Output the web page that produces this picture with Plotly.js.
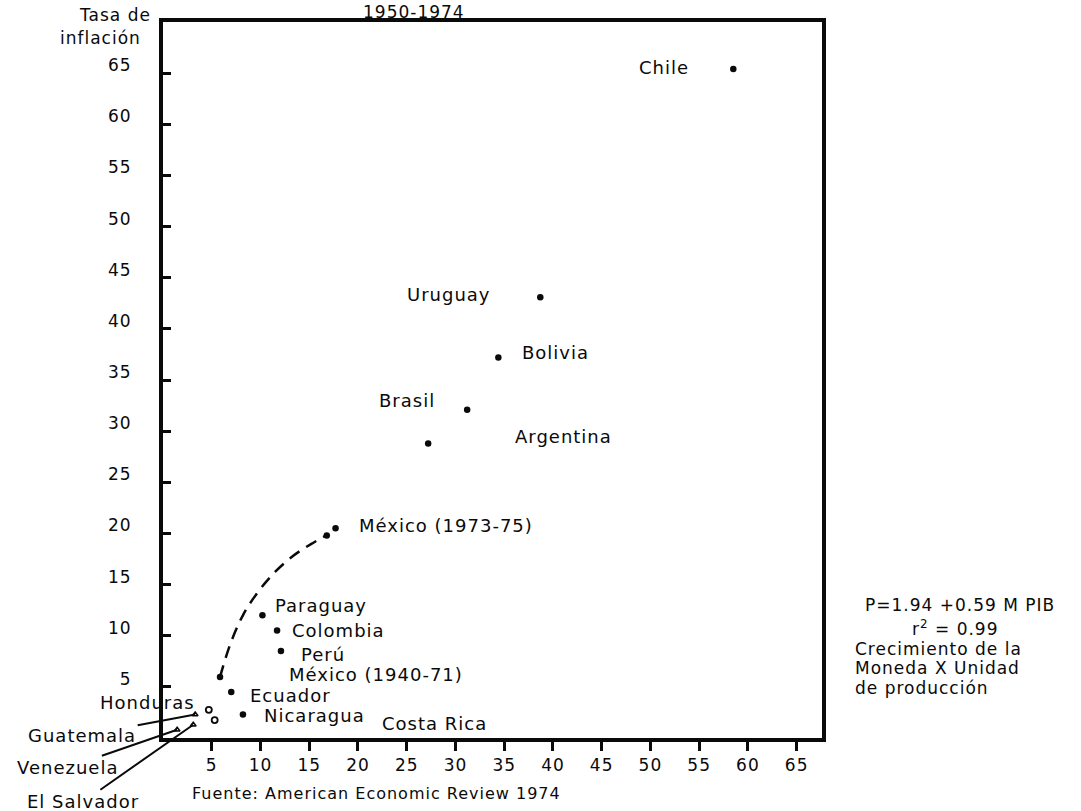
<!DOCTYPE html>
<html>
<head>
<meta charset="utf-8">
<script src="https://cdn.plot.ly/plotly-3.0.1.min.js"></script>
<style>
  html, body { margin: 0; padding: 0; background: #ffffff; }
  #chart { width: 1081px; height: 811px; }
  svg text { letter-spacing: 1px; }
</style>
</head>
<body>
<div id="chart"></div>
<script>
// ---- data ----
const mainCountries = ["Chile", "Uruguay", "Bolivia", "Brasil", "Argentina", "México (1973-75)", "México (1973-75)b",
                       "Paraguay", "Colombia", "Perú", "México (1940-71)", "Ecuador", "Nicaragua"];
const mainMoney = [58.5, 38.7, 34.4, 31.2, 27.2, 17.7, 16.8, 10.2, 11.7, 12.1, 5.85, 7.0, 8.2];
const mainInflation = [65.4, 43.1, 37.2, 32.1, 28.8, 20.5, 19.8, 12.0, 10.5, 8.5, 5.96, 4.5, 2.3];

const openCountries = ["Honduras", "Costa Rica"];
const openMoney = [4.7, 5.3];
const openInflation = [2.75, 1.75];

const smallCountries = ["Venezuela", "El Salvador", "Guatemala"];
const smallMoney = [1.45, 3.1, 3.3];
const smallInflation = [0.8, 1.3, 2.3];

// path of Mexico 1940-71 -> 1973-75 (dashed curve)
const mexPathMoney = [5.85, 6.87, 8.21, 9.74, 11.49, 13.33, 15.18, 16.82];
const mexPathInflation = [5.96, 9.09, 12.02, 14.27, 16.23, 17.79, 18.96, 19.84];

const xTicks = [5, 10, 15, 20, 25, 30, 35, 40, 45, 50, 55, 60, 65];
const yTicks = [5, 10, 15, 20, 25, 30, 35, 40, 45, 50, 55, 60, 65];

// ---- layout helpers ----
const L = 163, R = 822, T = 22, B = 738;
function px(xp) { return (xp - L) / (R - L); }
function py(yp) { return (B - yp) / (B - T); }
const FONT = "DejaVu Sans, Liberation Sans, sans-serif";
const INK = "#0a0a0a";

function label(text, x, y, xanchor, size) {
  return {text: text, xref: "paper", yref: "paper", x: px(x), y: py(y),
          xanchor: xanchor || "left", yanchor: "middle", showarrow: false,
          font: {family: FONT, size: size || 18, color: INK}};
}

const annotations = [
  label("1950-1974", 414, 12, "center", 17),
  label("Tasa de", 153, 15, "right", 17),
  label("inflación", 143, 38, "right", 17),
  label("Chile", 637, 67),
  label("Uruguay", 405, 295),
  label("Bolivia", 520, 352),
  label("Brasil", 377, 400),
  label("Argentina", 513, 436),
  label("México (1973-75)", 357, 525),
  label("Paraguay", 273, 605),
  label("Colombia", 290, 630),
  label("Perú", 299, 654),
  label("México (1940-71)", 287, 674),
  label("Ecuador", 248, 695),
  label("Nicaragua", 262, 715),
  label("Costa Rica", 380, 723),
  label("Honduras", 98, 702),
  label("Fuente: American Economic Review 1974", 190, 793, "left", 16),
  label("P=1.94 +0.59 M PIB", 863, 605, "left", 17),
  label("r<sup>2</sup> = 0.99", 955, 628, "center", 17),
  label("Crecimiento de la", 853, 649, "left", 17),
  label("Moneda X Unidad", 853, 668, "left", 17),
  label("de producción", 853, 688, "left", 17)
];

// leader lines for the crowded corner
function leader(text, i, axPix, ayPix) {
  return {text: text, x: smallMoney[i], y: smallInflation[i], xref: "x", yref: "y",
          ax: axPix, ay: ayPix, showarrow: true, arrowhead: 0, arrowwidth: 2, arrowcolor: INK,
          font: {family: FONT, size: 18, color: INK}};
}
annotations.push(leader("Guatemala", 2, -113, 21));
annotations.push(leader("Venezuela", 0, -110, 38));
annotations.push(leader("El Salvador", 1, -110, 77));

const traces = [
  {x: mexPathMoney, y: mexPathInflation, mode: "lines", type: "scatter",
   line: {color: INK, width: 2.5, dash: "12px,8px", shape: "spline"}, hoverinfo: "skip"},
  {x: mainMoney, y: mainInflation, text: mainCountries, mode: "markers", type: "scatter",
   marker: {color: INK, size: 6.5}, cliponaxis: false},
  {x: openMoney, y: openInflation, text: openCountries, mode: "markers", type: "scatter",
   marker: {color: "#fff", size: 6, symbol: "circle", line: {color: INK, width: 1.8}}},
  {x: smallMoney, y: smallInflation, text: smallCountries, mode: "markers", type: "scatter",
   marker: {color: "#fff", size: 5, symbol: "triangle-up", line: {color: INK, width: 1.5}}}
];

const layout = {
  width: 1081, height: 811,
  margin: {l: L, r: 1081 - R, t: T, b: 811 - B, pad: 0},
  paper_bgcolor: "#ffffff", plot_bgcolor: "#ffffff",
  showlegend: false,
  font: {family: FONT, size: 17, color: INK},
  xaxis: {range: [0, 67.6], tickvals: xTicks, ticktext: xTicks.map(String),
          showgrid: false, zeroline: false, showline: true, mirror: true,
          linecolor: INK, linewidth: 4, ticks: "outside", ticklen: 9, tickwidth: 3,
          tickcolor: INK, tickfont: {family: FONT, size: 17, color: INK}},
  yaxis: {range: [0, 70], tickvals: yTicks, ticktext: yTicks.map(String),
          showgrid: false, zeroline: false, showline: true, mirror: true,
          linecolor: INK, linewidth: 4, ticks: "inside", ticklen: 8, tickwidth: 3,
          tickcolor: INK, ticklabelstandoff: 24, ticklabelshift: -8,
          tickfont: {family: FONT, size: 17, color: INK}},
  annotations: annotations
};

Plotly.newPlot("chart", traces, layout, {displayModeBar: false, staticPlot: true});
</script>
</body>
</html>
